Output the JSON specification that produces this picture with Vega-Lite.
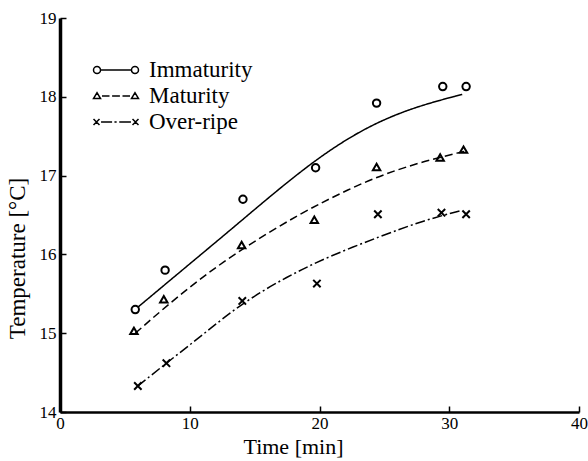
{
  "$schema": "https://vega.github.io/schema/vega-lite/v6.json",
  "autosize": {"type": "none"},
  "padding": {"left": 60, "top": 18, "right": 9, "bottom": 49},
  "width": 519,
  "height": 394,
  "background": "white",
  "config": {
    "view": {"stroke": null},
    "font": "Liberation Serif",
    "axis": {"labelFont": "Liberation Serif", "titleFont": "Liberation Serif", "labelColor": "black", "titleColor": "black", "domainColor": "black", "tickColor": "black", "grid": false, "titleFontWeight": "normal", "labelFlush": false, "labelOverlap": false},
    "legend": {"labelFont": "Liberation Serif"}
  },
  "datasets": {
    "points": [
      {"series": "Immaturity", "time": 5.8, "temp": 15.3},
      {"series": "Immaturity", "time": 8.1, "temp": 15.8},
      {"series": "Immaturity", "time": 14.1, "temp": 16.7},
      {"series": "Immaturity", "time": 19.7, "temp": 17.1},
      {"series": "Immaturity", "time": 24.4, "temp": 17.92},
      {"series": "Immaturity", "time": 29.5, "temp": 18.13},
      {"series": "Immaturity", "time": 31.3, "temp": 18.13},
      {"series": "Maturity", "time": 5.7, "temp": 15.03},
      {"series": "Maturity", "time": 8.0, "temp": 15.43},
      {"series": "Maturity", "time": 14.0, "temp": 16.12},
      {"series": "Maturity", "time": 19.6, "temp": 16.44},
      {"series": "Maturity", "time": 24.4, "temp": 17.11},
      {"series": "Maturity", "time": 29.3, "temp": 17.23},
      {"series": "Maturity", "time": 31.1, "temp": 17.33},
      {"series": "Over-ripe", "time": 6.0, "temp": 14.33},
      {"series": "Over-ripe", "time": 8.2, "temp": 14.62},
      {"series": "Over-ripe", "time": 14.05, "temp": 15.41},
      {"series": "Over-ripe", "time": 19.8, "temp": 15.63},
      {"series": "Over-ripe", "time": 24.5, "temp": 16.51},
      {"series": "Over-ripe", "time": 29.4, "temp": 16.53},
      {"series": "Over-ripe", "time": 31.3, "temp": 16.51}
    ],
    "curves": [
      {"series": "Immaturity", "time": 6.0, "temp": 15.33},
      {"series": "Immaturity", "time": 10, "temp": 15.88},
      {"series": "Immaturity", "time": 13.5, "temp": 16.36},
      {"series": "Immaturity", "time": 17, "temp": 16.85},
      {"series": "Immaturity", "time": 20.5, "temp": 17.3},
      {"series": "Immaturity", "time": 24, "temp": 17.65},
      {"series": "Immaturity", "time": 27.5, "temp": 17.88},
      {"series": "Immaturity", "time": 31, "temp": 18.03},
      {"series": "Maturity", "time": 5.8, "temp": 15.0},
      {"series": "Maturity", "time": 10, "temp": 15.6},
      {"series": "Maturity", "time": 14, "temp": 16.07},
      {"series": "Maturity", "time": 18.5, "temp": 16.52},
      {"series": "Maturity", "time": 22.4, "temp": 16.84},
      {"series": "Maturity", "time": 25, "temp": 17.02},
      {"series": "Maturity", "time": 28, "temp": 17.18},
      {"series": "Maturity", "time": 31.2, "temp": 17.31},
      {"series": "Over-ripe", "time": 6.0, "temp": 14.33},
      {"series": "Over-ripe", "time": 8.2, "temp": 14.62},
      {"series": "Over-ripe", "time": 11, "temp": 14.98},
      {"series": "Over-ripe", "time": 14, "temp": 15.38},
      {"series": "Over-ripe", "time": 17.5, "temp": 15.72},
      {"series": "Over-ripe", "time": 20.8, "temp": 15.98},
      {"series": "Over-ripe", "time": 24.7, "temp": 16.23},
      {"series": "Over-ripe", "time": 28, "temp": 16.43},
      {"series": "Over-ripe", "time": 31, "temp": 16.56}
    ],
    "legendItems": [
      {"series": "Immaturity"},
      {"series": "Maturity"},
      {"series": "Over-ripe"}
    ]
  },
  "resolve": {"scale": {"shape": "independent"}, "legend": {"shape": "independent"}},
  "layer": [
    {
      "data": {"name": "curves"},
      "mark": {"type": "line", "interpolate": "basis", "color": "black", "strokeWidth": 1.5},
      "encoding": {
        "x": {"field": "time", "type": "quantitative", "scale": {"domain": [0, 40], "nice": false},
          "axis": {"values": [0, 10, 20, 30, 40], "format": "d", "tickSize": -6, "tickWidth": 1.5, "domainWidth": 2.5, "labelFontSize": 17, "labelPadding": 9, "title": "Time [min]", "titleFontSize": 22, "titleFontWeight": "normal", "titlePadding": 5, "titleX": 233}},
        "y": {"field": "temp", "type": "quantitative", "scale": {"domain": [14, 19], "nice": false, "zero": false},
          "axis": {"values": [14, 15, 16, 17, 18, 19], "format": "d", "tickSize": -6, "tickWidth": 1.5, "domainWidth": 3.5, "labelFontSize": 17, "labelPadding": 10, "title": "Temperature [°C]", "titleFontSize": 23, "titleFontWeight": "normal", "titlePadding": 10, "titleY": 240}},
        "detail": {"field": "series"},
        "strokeDash": {"field": "series", "type": "nominal", "scale": {"domain": ["Immaturity", "Maturity", "Over-ripe"], "range": [[1, 0], [8, 4], [10, 3, 2, 3]]}, "legend": null}
      }
    },
    {
      "data": {"name": "points"},
      "mark": {"type": "point", "filled": false, "color": "black", "strokeWidth": 2, "size": 55, "opacity": 1},
      "encoding": {
        "x": {"field": "time", "type": "quantitative"},
        "y": {"field": "temp", "type": "quantitative"},
        "shape": {"field": "series", "type": "nominal", "scale": {"domain": ["Immaturity", "Maturity", "Over-ripe"], "range": ["circle", "triangle-up", "M-1,-1L1,1M-1,1L1,-1"]}, "legend": null}
      }
    },
    {
      "data": {"name": "legendItems"},
      "mark": {"type": "point", "filled": false, "color": "black", "opacity": 0, "size": 676},
      "encoding": {
        "shape": {"field": "series", "type": "nominal",
          "scale": {"domain": ["Immaturity", "Maturity", "Over-ripe"], "range": [
            "M-1.19,0A0.27,0.27 0 1,1 -1.73,0A0.27,0.27 0 1,1 -1.19,0M-1.19,0L1.19,0M1.73,0A0.27,0.27 0 1,1 1.19,0A0.27,0.27 0 1,1 1.73,0",
            "M-1.73,0.2L-1.19,0.2L-1.46,-0.26ZM-1.08,0L-0.5,0M-0.3,0L0.3,0M0.5,0L1.08,0M1.19,0.2L1.73,0.2L1.46,-0.26Z",
            "M-1.73,-0.23L-1.27,0.23M-1.73,0.23L-1.27,-0.23M-1.15,0L-0.3,0M-0.12,0L0.05,0M0.25,0L1.15,0M1.27,-0.23L1.73,0.23M1.27,0.23L1.73,-0.23"
          ]},
          "legend": {"title": null, "orient": "none", "legendX": 42, "legendY": 38, "symbolSize": 676, "labelFontSize": 23, "labelOffset": 19, "rowPadding": -1, "labelColor": "black", "symbolStrokeWidth": 1.5,
            "encode": {"symbols": {"update": {"opacity": {"value": 1}, "fill": {"value": "transparent"}, "stroke": {"value": "black"}, "strokeWidth": {"value": 1.5}}}}}
        }
      }
    }
  ]
}
